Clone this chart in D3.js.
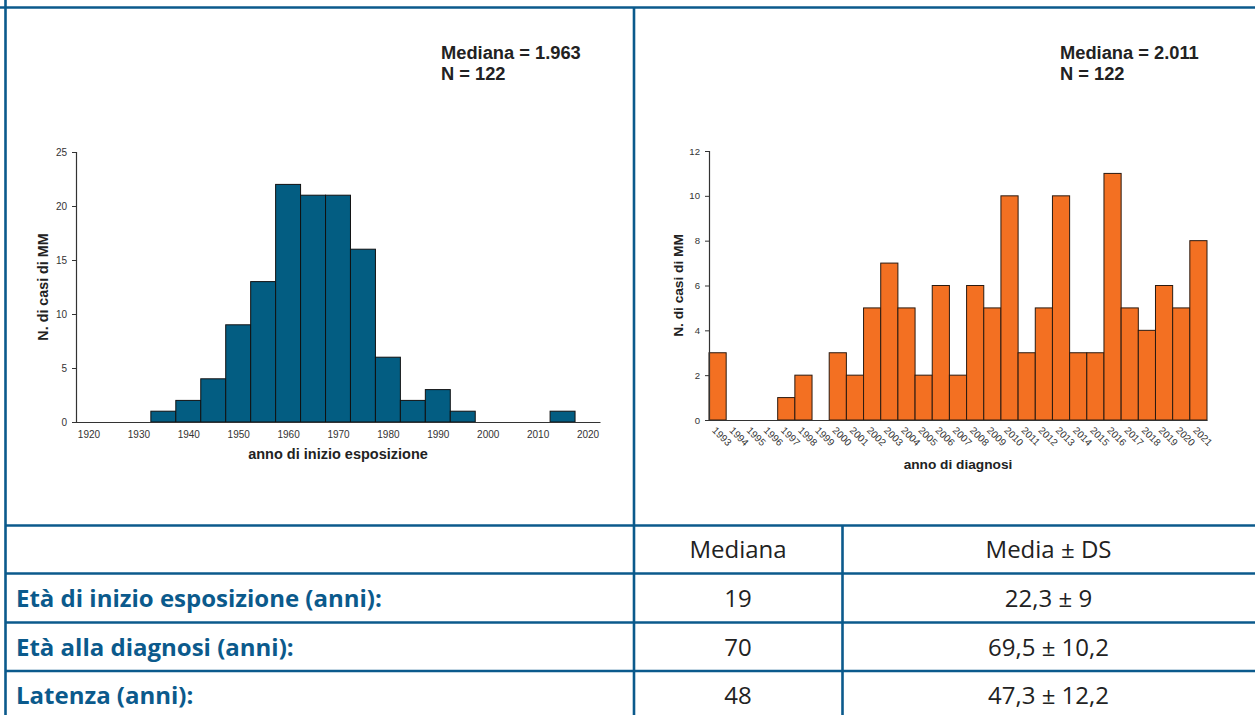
<!DOCTYPE html>
<html><head><meta charset="utf-8">
<script src="https://cdn.jsdelivr.net/npm/d3@7"></script>
<style>body{margin:0;background:#fff}svg{display:block}</style>
</head><body>
<svg id="c" width="1255" height="715"></svg>
<script>
// ---- data ----
const expoBinCenters = [1935,1940,1945,1950,1955,1960,1965,1970,1975,1980,1985,1990,1995,2000,2005,2010,2015];
const expoCounts     = [1,2,4,9,13,22,21,21,16,6,2,3,1,0,0,0,1];
const expoTicksX = [1920,1930,1940,1950,1960,1970,1980,1990,2000,2010,2020];
const expoTicksY = [0,5,10,15,20,25];

const diagYears  = ["1993","1994","1995","1996","1997","1998","1999","2000","2001","2002","2003","2004","2005","2006","2007","2008","2009","2010","2011","2012","2013","2014","2015","2016","2017","2018","2019","2020","2021"];
const diagCounts = [3,0,0,0,1,2,0,3,2,5,7,5,2,6,2,6,5,10,3,5,10,3,3,11,5,4,6,5,8];
const diagTicksY = [0,2,4,6,8,10,12];

const statsLeft  = ["Mediana = 1.963","N = 122"];
const statsRight = ["Mediana = 2.011","N = 122"];

const tableHeader = ["", "Mediana", "Media ± DS"];
const rowLabels  = ["Età di inizio esposizione (anni):","Età alla diagnosi (anni):","Latenza (anni):"];
const rowMedian  = ["19","70","48"];
const rowMeanSD  = ["22,3 ± 9","69,5 ± 10,2","47,3 ± 12,2"];

// ---- drawing ----
const svg = d3.select("#c");
const border = "#0b5a8c";
const axisCol = "#333";
const sans = "Liberation Sans, Arial, sans-serif";

// ---------- left histogram ----------
const xL = d3.scaleLinear().domain([1917.5,2022.5]).range([76,600]);
const yL = d3.scaleLinear().domain([0,25]).range([422,152]);
const gL = svg.append("g");
gL.selectAll("rect").data(expoBinCenters.map((c,i)=>({c, v:expoCounts[i]})).filter(d=>d.v>0))
  .enter().append("rect")
  .attr("x", d=>xL(d.c-2.5)).attr("width", d=>xL(d.c+2.5)-xL(d.c-2.5))
  .attr("y", d=>yL(d.v)).attr("height", d=>yL(0)-yL(d.v))
  .attr("fill","#035d82").attr("stroke","#111").attr("stroke-width",1);
const axL = gL.append("g").attr("transform","translate(0,422)")
  .call(d3.axisBottom(xL).tickValues(expoTicksX).tickSize(0).tickPadding(9).tickFormat(d3.format("d")));
const ayL = gL.append("g").attr("transform","translate(76,0)")
  .call(d3.axisLeft(yL).tickValues(expoTicksY).tickSize(4).tickPadding(5));
[axL, ayL].forEach(a=>{
  a.select(".domain").attr("stroke",axisCol).attr("stroke-width",1.2);
  a.selectAll(".tick line").attr("stroke",axisCol);
  a.selectAll("text").attr("font-family",sans).attr("font-size",10).attr("fill","#333");
});
gL.append("text").attr("x",338).attr("y",459).attr("text-anchor","middle")
  .attr("font-family",sans).attr("font-weight","bold").attr("font-size",14.5).attr("fill","#222")
  .text("anno di inizio esposizione");
gL.append("text").attr("transform","translate(48,287) rotate(-90)").attr("text-anchor","middle")
  .attr("font-family",sans).attr("font-weight","bold").attr("font-size",14.3).attr("fill","#222")
  .text("N. di casi di MM");
statsLeft.forEach((t,i)=>gL.append("text").attr("x",441).attr("y",59+i*21)
  .attr("font-family",sans).attr("font-weight","bold").attr("font-size",18.3).attr("fill","#222").text(t));

// ---------- right bar chart ----------
const xR = d3.scaleBand().domain(diagYears).range([709,1207]).padding(0);
const yR = d3.scaleLinear().domain([0,12]).range([420,151]);
const gR = svg.append("g");
gR.selectAll("rect").data(diagYears.map((y,i)=>({y, v:diagCounts[i]})).filter(d=>d.v>0))
  .enter().append("rect")
  .attr("x", d=>xR(d.y)).attr("width", xR.bandwidth())
  .attr("y", d=>yR(d.v)).attr("height", d=>yR(0)-yR(d.v))
  .attr("fill","#f37022").attr("stroke","#2a1a10").attr("stroke-width",1);
const axR = gR.append("g").attr("transform","translate(0,420)")
  .call(d3.axisBottom(xR).tickSize(0).tickPadding(0));
const ayR = gR.append("g").attr("transform","translate(709,0)")
  .call(d3.axisLeft(yR).tickValues(diagTicksY).tickSize(4).tickPadding(5));
[axR, ayR].forEach(a=>{
  a.select(".domain").attr("stroke",axisCol).attr("stroke-width",1.2);
  a.selectAll(".tick line").attr("stroke",axisCol);
  a.selectAll("text").attr("font-family",sans).attr("font-size",9.6).attr("fill","#333");
});
axR.selectAll(".tick text").attr("text-anchor","start").attr("dy",0).attr("y",0)
  .attr("transform","translate(-6,11) rotate(45)").attr("font-size",10);
gR.append("text").attr("x",958).attr("y",469).attr("text-anchor","middle")
  .attr("font-family",sans).attr("font-weight","bold").attr("font-size",13.7).attr("fill","#222")
  .text("anno di diagnosi");
gR.append("text").attr("transform","translate(683,285.5) rotate(-90)").attr("text-anchor","middle")
  .attr("font-family",sans).attr("font-weight","bold").attr("font-size",13.7).attr("fill","#222")
  .text("N. di casi di MM");
statsRight.forEach((t,i)=>gR.append("text").attr("x",1060).attr("y",59+i*21)
  .attr("font-family",sans).attr("font-weight","bold").attr("font-size",18.3).attr("fill","#222").text(t));

// ---------- table / frame ----------
const gT = svg.append("g");
const lineY = [525.5, 573.5, 622.5, 671];
const line = (x1,y1,x2,y2)=>gT.append("line").attr("x1",x1).attr("y1",y1).attr("x2",x2).attr("y2",y2)
  .attr("stroke",border).attr("stroke-width",2.6);
line(0,7.5,1255,7.5);
line(5.5,0,5.5,715);
line(634,7.5,634,715);
line(842.5,lineY[0],842.5,715);
lineY.forEach(y=>line(5.5,y,1255,y));

const colCenters = [null, 738, 1048.5];
const rowCenters = [550, 598.5, 647.3, 695.5];
const tfs = 24;
tableHeader.forEach((t,i)=>{ if(!t) return;
  gT.append("text").attr("x",colCenters[i]).attr("y",rowCenters[0]).attr("dy","0.35em").attr("text-anchor","middle")
    .attr("font-family","Open Sans, sans-serif").attr("font-size",tfs).attr("fill","#222").text(t);
});
rowLabels.forEach((t,i)=>{
  const cy = rowCenters[i+1];
  gT.append("text").attr("x",16).attr("y",cy).attr("dy","0.35em")
    .attr("font-family","Open Sans, sans-serif").attr("font-weight","bold").attr("font-size",tfs).attr("fill","#0b5a8c").text(t);
  gT.append("text").attr("x",colCenters[1]).attr("y",cy).attr("dy","0.35em").attr("text-anchor","middle")
    .attr("font-family","Open Sans, sans-serif").attr("font-size",tfs).attr("fill","#222").text(rowMedian[i]);
  gT.append("text").attr("x",colCenters[2]).attr("y",cy).attr("dy","0.35em").attr("text-anchor","middle")
    .attr("font-family","Open Sans, sans-serif").attr("font-size",tfs).attr("fill","#222").text(rowMeanSD[i]);
});
</script>
</body></html>
